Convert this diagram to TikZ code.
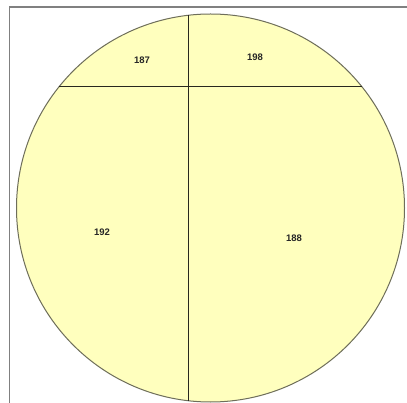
\documentclass[tikz,border=0pt]{standalone}
\usepackage{fontspec}
\setmainfont{Liberation Sans}
\definecolor{fillyellow}{RGB}{255,255,190}
\definecolor{edgegray}{RGB}{110,110,90}
\definecolor{framegray}{RGB}{128,128,128}
\definecolor{linedark}{RGB}{40,40,30}
\tikzset{
  lbl/.style={font=\bfseries\fontsize{9.5}{11}\selectfont, text=black!85, inner sep=0pt},
  divider/.style={draw=linedark, line width=1pt}
}
\begin{document}
\begin{tikzpicture}[x=1pt,y=-1pt]
\useasboundingbox (0,0) rectangle (407,403);
\fill[white] (0,0) rectangle (407,403);
% frame
\draw[framegray, line width=1.8pt] (9.5,403) -- (9.5,7) -- (407,7);
% disk
\coordinate (c) at (210.5,208);
\draw[fill=fillyellow, draw=edgegray, line width=1pt] (c) circle[radius=194];
% dividers
\coordinate (h1) at (58.6,87);
\coordinate (h2) at (361.6,87);
\coordinate (v1) at (188,15.3);
\coordinate (v2) at (188,400.7);
\draw[divider] (h1) -- (h2);
\draw[divider] (v1) -- (v2);
% labels
\node[lbl] (a) at (142,60) {187};
\node[lbl] (b) at (255,57) {198};
\node[lbl] (d) at (102,232) {192};
\node[lbl] (e) at (294,238) {188};
\end{tikzpicture}
\end{document}
